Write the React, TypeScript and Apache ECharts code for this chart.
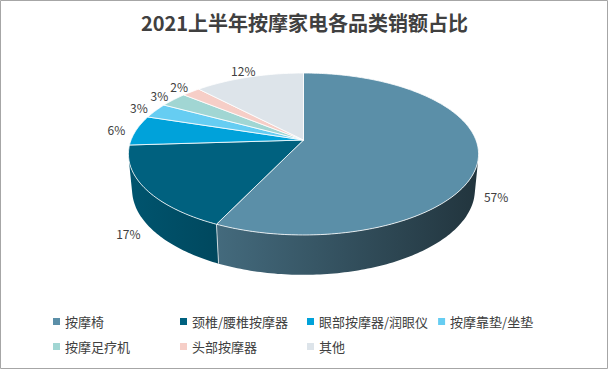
import React, { useEffect, useRef } from "react";
import * as echarts from "echarts";

const titleText = "2021上半年按摩家电各品类销额占比";
const names = ["按摩椅", "颈椎/腰椎按摩器", "眼部按摩器/润眼仪", "按摩靠垫/坐垫", "按摩足疗机", "头部按摩器", "其他"];
const values = [57, 17, 6, 3, 3, 2, 12];
const colors = ["#5b8fa8", "#00617f", "#00a2da", "#66cdf2", "#a1d6d3", "#f6cec7", "#dde4ea"];

// 3D projection settings (view only)
const CX = 303.5;
const CY = 140;
const F = 888;
const D = 5.15;
const PHI = (27.1 * Math.PI) / 180;
const H = 0.233;

function project(X: number, Y: number, Z: number): number[] {
  const s = Math.sin(PHI);
  const c = Math.cos(PHI);
  const depth = D - Y * s + Z * c;
  const v = Y * c + Z * s;
  return [CX + (F * X) / depth, CY - (F * v) / depth];
}

function shade(hex: string, f: number): string {
  const n = parseInt(hex.slice(1), 16);
  const r = Math.round(((n >> 16) & 255) * f);
  const g = Math.round(((n >> 8) & 255) * f);
  const b = Math.round((n & 255) * f);
  return `rgb(${r},${g},${b})`;
}

export default function App() {
  const ref = useRef<HTMLDivElement>(null);
  useEffect(() => {
    document.body.style.margin = "0";
    if (!ref.current) return;
    const chart = echarts.init(ref.current, null, { renderer: "svg" });
    const total = values.reduce((a, b) => a + b, 0);
    const starts: number[] = [];
    const ends: number[] = [];
    let cum = 0;
    values.forEach((v) => {
      starts.push((2 * Math.PI * cum) / total);
      cum += v;
      ends.push((2 * Math.PI * cum) / total);
    });
    const tLim = Math.acos(-1 / (D * Math.cos(PHI)));
    const tv0 = tLim;
    const tv1 = 2 * Math.PI - tLim;
    const xl = project(-1, 0, 0)[0];
    const xr = project(1, 0, 0)[0];
    const step = Math.PI / 180;
    const font = '"Noto Sans CJK SC", "Noto Sans", sans-serif';

    const arc = (a: number, b: number, Y: number) => {
      const pts: number[][] = [];
      const n = Math.max(2, Math.ceil((b - a) / step) + 1);
      for (let k = 0; k < n; k++) {
        const t = a + ((b - a) * k) / (n - 1);
        pts.push(project(Math.sin(t), Y, Math.cos(t)));
      }
      return pts;
    };

    const renderWall = (params: any) => {
      const i = params.dataIndex;
      const lo = Math.max(starts[i], tv0);
      const hi = Math.min(ends[i], tv1);
      const children: any[] = [];
      if (hi > lo) {
        const top = arc(lo, hi, 0);
        const bot = arc(lo, hi, -H).reverse();
        children.push({
          type: "polygon",
          shape: { points: top.concat(bot) },
          style: {
            fill: new echarts.graphic.LinearGradient(
              xl, 0, xr, 0,
              [
                { offset: 0, color: shade(colors[i], 0.87) },
                { offset: 1, color: shade(colors[i], 0.37) },
              ],
              true
            ),
            stroke: null,
          },
        });
        if (starts[i] > tv0 && starts[i] < tv1) {
          const t = starts[i];
          const p0 = project(Math.sin(t), 0, Math.cos(t));
          const p1 = project(Math.sin(t), -H, Math.cos(t));
          children.push({
            type: "line",
            shape: { x1: p0[0], y1: p0[1], x2: p1[0], y2: p1[1] },
            style: { stroke: "rgba(255,255,255,0.7)", lineWidth: 1 },
          });
        }
      }
      return { type: "group", children };
    };

    const renderTop = (params: any) => {
      const i = params.dataIndex;
      const center = project(0, 0, 0);
      const pts = [center].concat(arc(starts[i], ends[i], 0));
      const tm = (starts[i] + ends[i]) / 2;
      const r = 1.12;
      const Y = Math.cos(tm) < 0 ? -H : 0;
      const lp = project(r * Math.sin(tm), Y, r * Math.cos(tm));
      return {
        type: "group",
        children: [
          {
            type: "polygon",
            shape: { points: pts },
            style: { fill: colors[i], stroke: "#ffffff", lineWidth: 0.8, lineJoin: "round" },
          },
          {
            type: "text",
            x: lp[0],
            y: lp[1],
            style: {
              text: Math.round((values[i] / total) * 100) + "%",
              fill: "#404040",
              fontSize: 12,
              fontFamily: font,
              align: "center",
              verticalAlign: "middle",
            },
          },
        ],
      };
    };

    const data = values.map((v, i) => ({ name: names[i], value: v }));

    chart.setOption({
      animation: false,
      backgroundColor: "#ffffff",
      title: {
        text: titleText,
        left: "center",
        top: 7,
        textStyle: { fontSize: 20, fontWeight: "bold", color: "#404040", fontFamily: font },
      },
      graphic: [
        {
          type: "rect",
          shape: { x: 0.5, y: 0.5, width: 607, height: 368 },
          style: { fill: "none", stroke: "#a6a6a6", lineWidth: 1 },
          silent: true,
        },
      ],
      legend: {
        data: names,
        left: 53,
        top: 314,
        width: 520,
        padding: 0,
        itemWidth: 7,
        itemHeight: 7,
        itemGap: 10,
        icon: "rect",
        selectedMode: false,
        textStyle: {
          fontSize: 13,
          color: "#404040",
          fontFamily: font,
          width: 105,
          lineHeight: 15,
        },
      },
      series: [
        {
          type: "pie",
          name: "legend",
          radius: [0, 0],
          center: [-50, -50],
          silent: true,
          label: { show: false },
          labelLine: { show: false },
          data: values.map((v, i) => ({ name: names[i], value: v, itemStyle: { color: colors[i] } })),
        },
        {
          type: "custom",
          name: "walls",
          coordinateSystem: "none",
          silent: true,
          z: 1,
          data,
          renderItem: renderWall,
        },
        {
          type: "custom",
          name: "tops",
          coordinateSystem: "none",
          silent: true,
          z: 2,
          data,
          renderItem: renderTop,
        },
      ],
    });
    return () => chart.dispose();
  }, []);
  return <div ref={ref} style={{ width: 609, height: 370 }} />;
}
